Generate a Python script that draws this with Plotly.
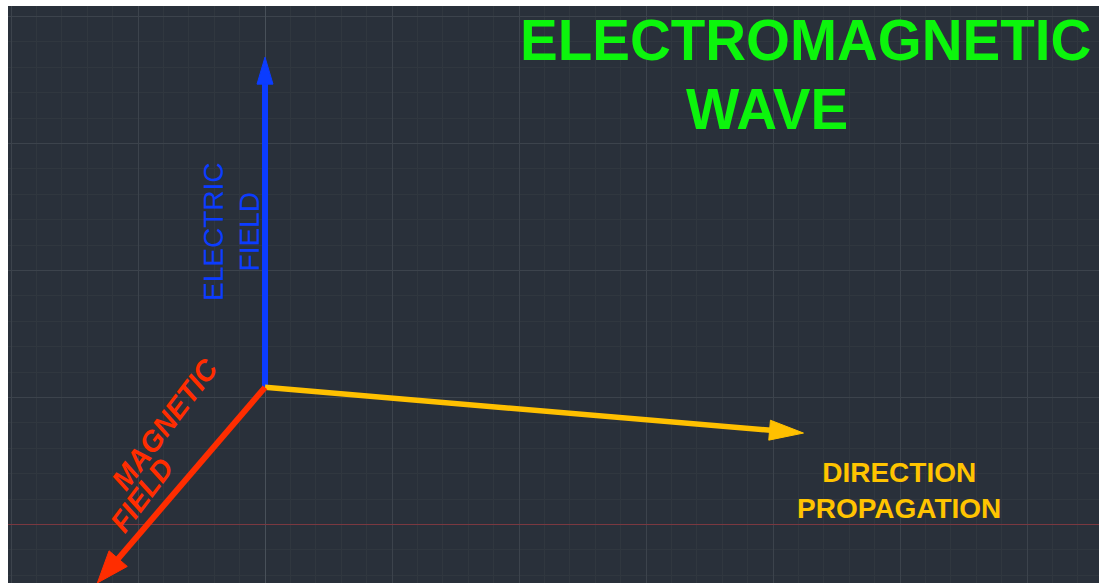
import math
import plotly.graph_objects as go

# ---- data (grid units: 1 unit = one minor grid cell) ----
vector_names = ["ELECTRIC FIELD", "DIRECTION PROPAGATION", "MAGNETIC FIELD"]
origin_x = [0.0, 0.0, 0.0]
origin_y = [5.4, 5.4, 5.4]
tip_x = [0.0, 21.2, -6.6]
tip_y = [18.4, 3.6, -2.3]

title_lines = ["ELECTROMAGNETIC", "WAVE"]
electric_label = ["ELECTRIC", "FIELD"]
magnetic_label = ["MAGNETIC", "FIELD"]
direction_label = ["DIRECTION", "PROPAGATION"]

# ---- styles ----
PAGE_W, PAGE_H = 1099, 583
OFF_L, OFF_T = 8, 6           # white border of the picture
W, H = PAGE_W - OFF_L, PAGE_H - OFF_T
PX_PER_UNIT = 25.4
X0_PX, Y0_PX = 265.0, 524.5  # page pixel of data (0,0)
x_range = [(OFF_L - X0_PX) / PX_PER_UNIT, (PAGE_W - X0_PX) / PX_PER_UNIT]
y_range = [(Y0_PX - PAGE_H) / PX_PER_UNIT, (Y0_PX - OFF_T) / PX_PER_UNIT]

BG = "#29303a"
MINOR = "#30373f"
MAJOR = "#3c434c"
RED_AXIS = "#7a3840"
colors = ["#0b3cff", "#ffc000", "#ff2d00"]
head_len_px = [27, 34, 32]
head_w_px = [16, 20, 24]
shaft_w = [6, 5.5, 6]
FONT = "Liberation Sans, Arial, sans-serif"
GREEN = "#0cf50c"


def px(xpix, ypix):
    return (xpix - X0_PX) / PX_PER_UNIT, (Y0_PX - ypix) / PX_PER_UNIT


fig = go.Figure()

for i, name in enumerate(vector_names):
    x0, y0, x1, y1 = origin_x[i], origin_y[i], tip_x[i], tip_y[i]
    dx, dy = x1 - x0, y1 - y0
    L = math.hypot(dx, dy)
    ux, uy = dx / L, dy / L
    hl = head_len_px[i] / PX_PER_UNIT
    hw = head_w_px[i] / PX_PER_UNIT / 2
    bx, by = x1 - ux * hl, y1 - uy * hl
    nx, ny = -uy, ux
    fig.add_trace(go.Scatter(
        x=[x0, bx + ux * 0.05], y=[y0, by + uy * 0.05], mode="lines",
        line=dict(color=colors[i], width=shaft_w[i]),
        hoverinfo="skip", showlegend=False))
    fig.add_trace(go.Scatter(
        x=[x1, bx + nx * hw, bx - nx * hw, x1],
        y=[y1, by + ny * hw, by - ny * hw, y1],
        mode="lines", fill="toself", fillcolor=colors[i],
        line=dict(color=colors[i], width=1),
        hoverinfo="skip", showlegend=False))

annotations = []
# title
tx, ty = px(805.5, 40)
annotations.append(dict(x=tx, y=ty, text=title_lines[0], showarrow=False,
                        xanchor="center", yanchor="middle",
                        font=dict(family=FONT, size=56.5, color=GREEN, weight="bold")))
tx, ty = px(767, 109)
annotations.append(dict(x=tx, y=ty, text=title_lines[1], showarrow=False,
                        xanchor="center", yanchor="middle",
                        font=dict(family=FONT, size=56.5, color=GREEN, weight="bold")))
# electric field
tx, ty = px(231, 232)
annotations.append(dict(x=tx, y=ty, text="<br>".join(electric_label), showarrow=False,
                        textangle=-90, xanchor="center", yanchor="middle", align="center",
                        font=dict(family=FONT, size=28, color=colors[0])))
# magnetic field
tx, ty = px(165, 424)
annotations.append(dict(x=tx, y=ty, text=magnetic_label[0], showarrow=False,
                        textangle=-53, xanchor="center", yanchor="middle",
                        font=dict(family=FONT, size=29, color=colors[2], weight="bold", style="italic")))
tx, ty = px(142, 495)
annotations.append(dict(x=tx, y=ty, text=magnetic_label[1], showarrow=False,
                        textangle=-53, xanchor="center", yanchor="middle",
                        font=dict(family=FONT, size=29, color=colors[2], weight="bold", style="italic")))
# direction propagation
tx, ty = px(899, 490)
annotations.append(dict(x=tx, y=ty, text="<br>".join(direction_label), showarrow=False,
                        xanchor="center", yanchor="middle", align="center",
                        font=dict(family=FONT, size=28, color="#ffc400", weight="bold")))

axis_common = dict(
    showticklabels=False, ticks="", showline=False, fixedrange=True,
    tick0=0, dtick=5, showgrid=True, gridcolor=MAJOR, gridwidth=1,
    minor=dict(tick0=0, dtick=1, showgrid=True, gridcolor=MINOR, gridwidth=1),
)

fig.update_layout(
    width=W, height=H,
    margin=dict(l=0, r=0, t=0, b=0, pad=0),
    paper_bgcolor="white", plot_bgcolor=BG,
    xaxis=dict(range=x_range, zeroline=True, zerolinecolor="#485059", zerolinewidth=1, **axis_common),
    yaxis=dict(range=y_range, zeroline=True, zerolinecolor=RED_AXIS, zerolinewidth=1, **axis_common),
    annotations=annotations,
    showlegend=False,
)

fig.write_html(
    "out.html",
    config={"displayModeBar": False},
    post_script=f"document.body.style.margin='{OFF_T}px 0 0 {OFF_L}px';"
                "document.body.style.overflow='hidden';",
)
